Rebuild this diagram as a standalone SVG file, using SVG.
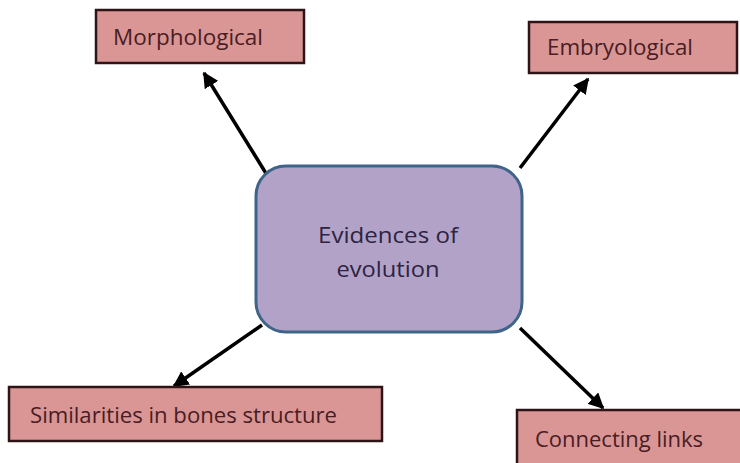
<svg xmlns="http://www.w3.org/2000/svg" width="740" height="463" viewBox="0 0 740 463">
<defs>
<style>
.box{fill:#d99694;stroke:#2e1416;stroke-width:2.5}
.lbl{font-family:"Open Sans",Lato,sans-serif;font-size:22px;fill:#4a1c24}
.ctr{fill:#b3a2c7;stroke:#3f6489;stroke-width:3}
.ctxt{font-family:"Open Sans",Lato,sans-serif;font-size:21px;fill:#2c2442;text-anchor:middle}
.con{stroke:#000;stroke-width:3.5;fill:none;marker-end:url(#ah)}
</style>
<marker id="ah" viewBox="0 0 10 10" refX="9" refY="5" markerWidth="4.5" markerHeight="4.5" orient="auto" markerUnits="strokeWidth">
<path d="M0,0 L10,5 L0,10 z" fill="#000"/>
</marker>
</defs>
<rect width="740" height="463" fill="#fff"/>
<g id="connectors">
<line class="con" x1="267" y1="175" x2="204" y2="73"/>
<line class="con" x1="520" y1="168" x2="588" y2="79"/>
<line class="con" x1="262" y1="325" x2="174" y2="386"/>
<line class="con" x1="520" y1="328" x2="603" y2="408"/>
</g>
<g id="center">
<rect class="ctr" x="256" y="166" width="266" height="166" rx="30"/>
<text class="ctxt" x="388" y="243" textLength="140" lengthAdjust="spacingAndGlyphs">Evidences of</text>
<text class="ctxt" x="388" y="277" textLength="103" lengthAdjust="spacingAndGlyphs">evolution</text>
</g>
<g id="morphological">
<rect class="box" x="96" y="10" width="208" height="53"/>
<text class="lbl" x="113" y="45" textLength="150" lengthAdjust="spacingAndGlyphs">Morphological</text>
</g>
<g id="embryological">
<rect class="box" x="529" y="22" width="208" height="51"/>
<text class="lbl" x="547" y="55" textLength="146" lengthAdjust="spacingAndGlyphs">Embryological</text>
</g>
<g id="similarities">
<rect class="box" x="9" y="387" width="373" height="54"/>
<text class="lbl" x="30" y="423" textLength="307" lengthAdjust="spacingAndGlyphs">Similarities in bones structure</text>
</g>
<g id="connecting">
<rect class="box" x="517" y="410" width="230" height="60"/>
<text class="lbl" x="535" y="447" textLength="168" lengthAdjust="spacingAndGlyphs">Connecting links</text>
</g>
</svg>
